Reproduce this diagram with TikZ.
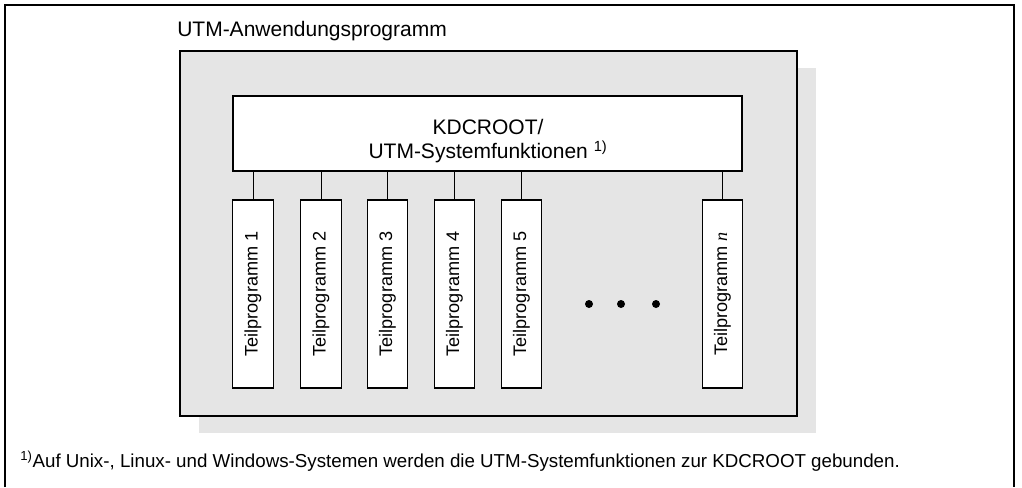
\documentclass[tikz,border=0pt]{standalone}
\usepackage{fontspec}
\setmainfont{Liberation Sans}
\newfontfamily\seriffont{Liberation Serif}
\definecolor{panelgray}{HTML}{E5E5E5}
\begin{document}
\begin{tikzpicture}[x=0.75pt,y=-0.75pt,
  frame/.style={line width=1.1pt},
  boxline/.style={draw=black,line width=1.1pt},
  tpbox/.style={boxline,fill=white,rotate=90,minimum width=188*0.75pt,minimum height=40.5*0.75pt,inner sep=0pt,font=\fontsize{13.6pt}{16pt}\selectfont},
  conn/.style={line width=0.75pt},
  dot/.style={circle,fill=black,inner sep=0pt,minimum size=8*0.75pt}]
\useasboundingbox (0,0) rectangle (1022,487);
% outer frame
\draw[frame] (5,487) -- (5,5) -- (1014,5) -- (1014,487);
\node[anchor=base west,inner sep=0pt,font=\fontsize{15.75pt}{18pt}\selectfont] (title) at (177,36) {UTM-Anwendungsprogramm};
% shadow and panel
\fill[panelgray] (199,68) rectangle (816,433);
\draw[boxline,fill=panelgray] (180,51) rectangle (797,416);
% KDCROOT box
\node[boxline,fill=white,minimum width=509*0.75pt,minimum height=75*0.75pt,inner sep=0pt] (k) at (487.5,133.5) {};
\node[align=center,inner sep=0pt,font=\fontsize{15.75pt}{18pt}\selectfont] (kt) at (488,141) {KDCROOT/\\UTM-Systemfunktionen \textsuperscript{1)}};
% Teilprogramme
\node[tpbox] (t1) at (253,294) {Teilprogramm 1};
\node[tpbox] (t2) at (321,294) {Teilprogramm 2};
\node[tpbox] (t3) at (387.5,294) {Teilprogramm 3};
\node[tpbox] (t4) at (454.5,294) {Teilprogramm 4};
\node[tpbox] (t5) at (521.5,294) {Teilprogramm 5};
\node[tpbox] (tn) at (722.5,294) {Teilprogramm {\seriffont\itshape n}};
\foreach \t in {t1,t2,t3,t4,t5,tn}
  \draw[conn] (\t.east) -- (\t.east |- k.south);
% dots
\node[dot] (d1) at (589,304) {};
\node[dot] (d2) at (621,304) {};
\node[dot] (d3) at (656,304) {};
% footnote
\node[anchor=base west,inner sep=0pt,font=\fontsize{14.05pt}{16pt}\selectfont] (fn) at (20,467) {\textsuperscript{1)}Auf Unix-, Linux- und Windows-Systemen werden die UTM-Systemfunktionen zur KDCROOT gebunden.};
\end{tikzpicture}
\end{document}
